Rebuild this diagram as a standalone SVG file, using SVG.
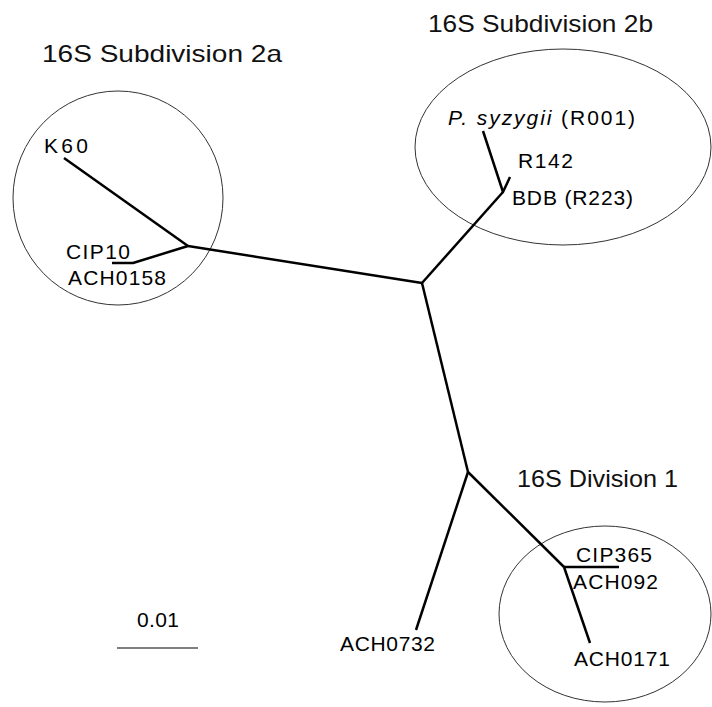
<svg xmlns="http://www.w3.org/2000/svg" width="712" height="707" viewBox="0 0 712 707">
<style>
.bg{fill:#fff}
.grp{fill:none;stroke:#333;stroke-width:1}
.br{fill:none;stroke:#000;stroke-width:2.5;stroke-linejoin:round;stroke-linecap:butt}
.title{font-family:"Liberation Sans","DejaVu Sans",sans-serif;font-size:24px;fill:#111}
.lab{font-family:"Liberation Sans",Arial,sans-serif;font-size:21px;fill:#000}
</style>
<rect class="bg" x="0" y="0" width="712" height="707"/>
<g id="group-2a">
<ellipse class="grp" cx="118" cy="198" rx="105" ry="107"/>
<text class="title" x="42" y="62" textLength="240" lengthAdjust="spacingAndGlyphs">16S Subdivision 2a</text>
</g>
<g id="group-2b">
<ellipse class="grp" cx="563" cy="147" rx="148" ry="98"/>
<text class="title" x="428" y="32" textLength="225" lengthAdjust="spacingAndGlyphs">16S Subdivision 2b</text>
</g>
<g id="group-1">
<ellipse class="grp" cx="605" cy="614" rx="106" ry="88"/>
<text class="title" x="517" y="487" textLength="161" lengthAdjust="spacingAndGlyphs">16S Division 1</text>
</g>
<g id="connectors">
<polyline class="br" points="64,158 188,246"/>
<polyline class="br" points="112,263 133,263 188,246"/>
<polyline class="br" points="188,246 422,283"/>
<polyline class="br" points="422,283 503,192"/>
<polyline class="br" points="483,131 503,192 510,177"/>
<polyline class="br" points="422,283 468,472"/>
<polyline class="br" points="468,472 416,630"/>
<polyline class="br" points="468,472 564,567"/>
<polyline class="br" points="564,567 619,567"/>
<polyline class="br" points="564,567 590,643"/>
</g>
<g id="leaf-K60"><text class="lab" x="44" y="153" textLength="44" lengthAdjust="spacing">K60</text></g>
<g id="leaf-CIP10"><text class="lab" x="66" y="259" textLength="64" lengthAdjust="spacing">CIP10</text></g>
<g id="leaf-ACH0158"><text class="lab" x="68" y="285" textLength="98" lengthAdjust="spacing">ACH0158</text></g>
<g id="leaf-R001"><text class="lab" x="448" y="125" textLength="187" lengthAdjust="spacing"><tspan font-style="italic">P. syzygii</tspan> (R001)</text></g>
<g id="leaf-R142"><text class="lab" x="518" y="168" textLength="55" lengthAdjust="spacing">R142</text></g>
<g id="leaf-R223"><text class="lab" x="512" y="205" textLength="121" lengthAdjust="spacing">BDB (R223)</text></g>
<g id="leaf-CIP365"><text class="lab" x="576" y="562" textLength="76" lengthAdjust="spacing">CIP365</text></g>
<g id="leaf-ACH092"><text class="lab" x="573" y="589" textLength="85" lengthAdjust="spacing">ACH092</text></g>
<g id="leaf-ACH0171"><text class="lab" x="574" y="666" textLength="96" lengthAdjust="spacing">ACH0171</text></g>
<g id="leaf-ACH0732"><text class="lab" x="340" y="651" textLength="95" lengthAdjust="spacing">ACH0732</text></g>
<g id="scale">
<text class="lab" x="137" y="627" textLength="42" lengthAdjust="spacing">0.01</text>
<line x1="117" y1="648" x2="198" y2="648" stroke="#000" stroke-width="1.2"/>
</g>
</svg>
